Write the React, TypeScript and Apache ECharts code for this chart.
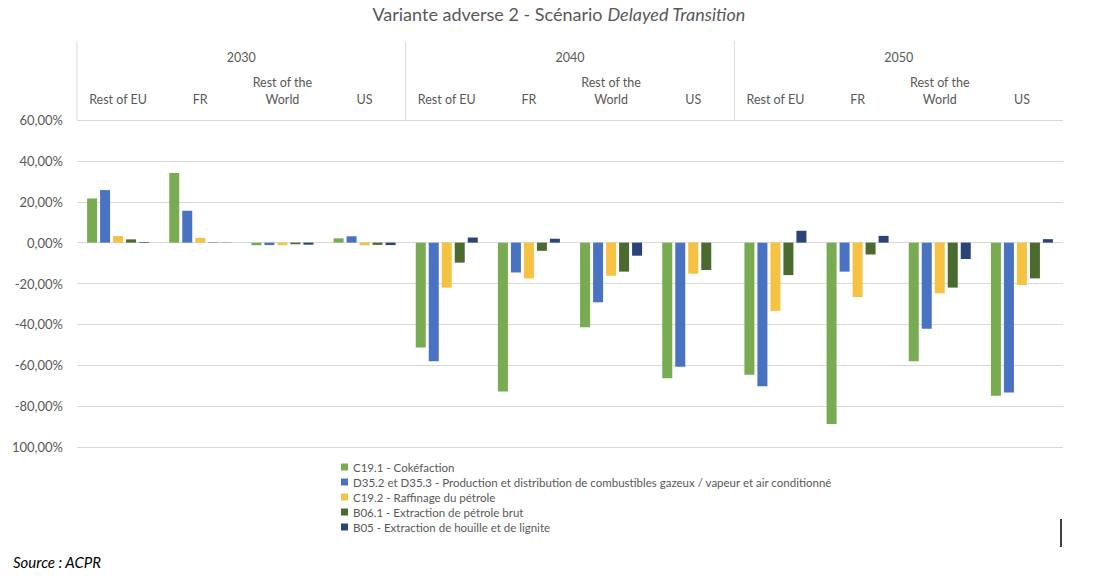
import React, { useEffect, useRef } from "react";
import * as echarts from "echarts";

const years = ["2030", "2040", "2050"];
const regions = ["Rest of EU", "FR", "Rest of the\nWorld", "US"];
const categories = [...regions, ...regions, ...regions];

const seriesNames = [
  "C19.1 - Cokéfaction",
  "D35.2 et D35.3 - Production et distribution de combustibles gazeux / vapeur et air conditionné",
  "C19.2 - Raffinage du pétrole",
  "B06.1 - Extraction de pétrole brut",
  "B05 - Extraction de houille et de lignite",
];

const cokefaction = [21.6, 34.1, -1.3, 2.1, -51.3, -72.9, -41.4, -66.3, -64.6, -88.7, -58.1, -74.9];
const production = [25.7, 15.6, -1.2, 3.1, -58.1, -14.6, -29.2, -60.7, -70.3, -14.2, -42.2, -73.3];
const raffinage = [3.2, 2.3, -1.3, -1.3, -22.0, -17.5, -16.2, -15.2, -33.4, -26.6, -24.8, -20.7];
const petroleBrut = [1.6, 0.2, -0.8, -1.1, -9.8, -4.0, -14.2, -13.4, -15.9, -5.8, -22.0, -17.5];
const houille = [0.3, 0.1, -1.0, -1.2, 2.5, 1.9, -6.4, 0.0, 5.8, 3.3, -8.0, 1.7];

const yTicks = [60, 40, 20, 0, -20, -40, -60, -80, -100];

const colors = ["#78AB52", "#4A72C2", "#F5C243", "#4B6A30", "#2A4478"];

const FONT = "Lato, 'Open Sans', sans-serif";
const GREY = "#595959";

const GRID_LEFT = 77;
const GRID_RIGHT = 55;
const GRID_TOP = 120;
const WIDTH = 1118;

export default function App() {
  const ref = useRef<HTMLDivElement>(null);

  useEffect(() => {
    if (!ref.current) return;
    const chart = echarts.init(ref.current, null, { renderer: "svg" });
    const values = [cokefaction, production, raffinage, petroleBrut, houille];
    const fmt = (v: number) => {
      if (v === yTicks[yTicks.length - 1]) return Math.abs(v).toFixed(2).replace(".", ",") + "%";
      return v.toFixed(2).replace(".", ",") + "%";
    };
    const groupW = (WIDTH - GRID_LEFT - GRID_RIGHT) / years.length;
    const dividers = years.map((_, k) => ({
      type: "line",
      shape: { x1: GRID_LEFT + k * groupW, y1: 41, x2: GRID_LEFT + k * groupW, y2: GRID_TOP },
      style: { stroke: "#D9D9D9", lineWidth: 1 },
      silent: true,
    }));
    chart.setOption({
      animation: false,
      textStyle: { fontFamily: FONT },
      title: {
        text: "{n|Variante adverse 2 - Scénario }{i|Delayed Transition}",
        left: "center",
        top: 0,
        textStyle: {
          rich: {
            n: { fontSize: 18, color: GREY, fontFamily: FONT, fontWeight: "normal" },
            i: { fontSize: 18, color: GREY, fontFamily: FONT, fontStyle: "italic", fontWeight: "normal" },
          },
        },
      },
      legend: {
        orient: "vertical",
        left: 336,
        top: 456,
        itemWidth: 7,
        itemHeight: 7,
        itemGap: 3,
        icon: "rect",
        textStyle: { fontSize: 11.5, color: GREY, lineHeight: 12, fontFamily: FONT },
        data: seriesNames,
      },
      grid: { left: GRID_LEFT, right: GRID_RIGHT, top: GRID_TOP, bottom: 135, containLabel: false },
      xAxis: [
        {
          type: "category",
          data: categories,
          position: "top",
          axisLine: { show: false },
          axisTick: { show: false },
          axisLabel: {
            interval: 0,
            margin: 12,
            fontSize: 12.5,
            color: GREY,
            lineHeight: 17,
            fontFamily: FONT,
          },
        },
        {
          type: "category",
          data: years,
          position: "top",
          axisLine: { show: false },
          axisTick: { show: false },
          axisLabel: { margin: 56, fontSize: 12.5, color: GREY, fontFamily: FONT },
        },
      ],
      yAxis: {
        type: "value",
        min: -100,
        max: 60,
        interval: 20,
        axisLine: { show: false },
        axisTick: { show: false },
        splitLine: { lineStyle: { color: "#D9D9D9", width: 1 } },
        axisLabel: { formatter: fmt, fontSize: 13, color: GREY, margin: 14, fontFamily: FONT },
      },
      series: seriesNames.map((name, i) => ({
        name,
        type: "bar",
        xAxisIndex: 0,
        data: values[i],
        barWidth: 10,
        barGap: "30%",
        itemStyle: { color: colors[i] },
      })),
      graphic: [
        ...dividers,
        {
          type: "text",
          left: 13,
          top: 554,
          style: {
            text: "Source : ACPR",
            fontSize: 15,
            fontStyle: "italic",
            fill: "#000",
            fontFamily: FONT,
          },
        },
        {
          type: "line",
          shape: { x1: 1061, y1: 519, x2: 1061, y2: 547 },
          style: { stroke: "#000", lineWidth: 1.5 },
        },
      ],
    });
    return () => chart.dispose();
  }, []);

  return (
    <div
      ref={ref}
      style={{ position: "fixed", left: 0, top: 0, width: 1118, height: 582, background: "#fff" }}
    />
  );
}
